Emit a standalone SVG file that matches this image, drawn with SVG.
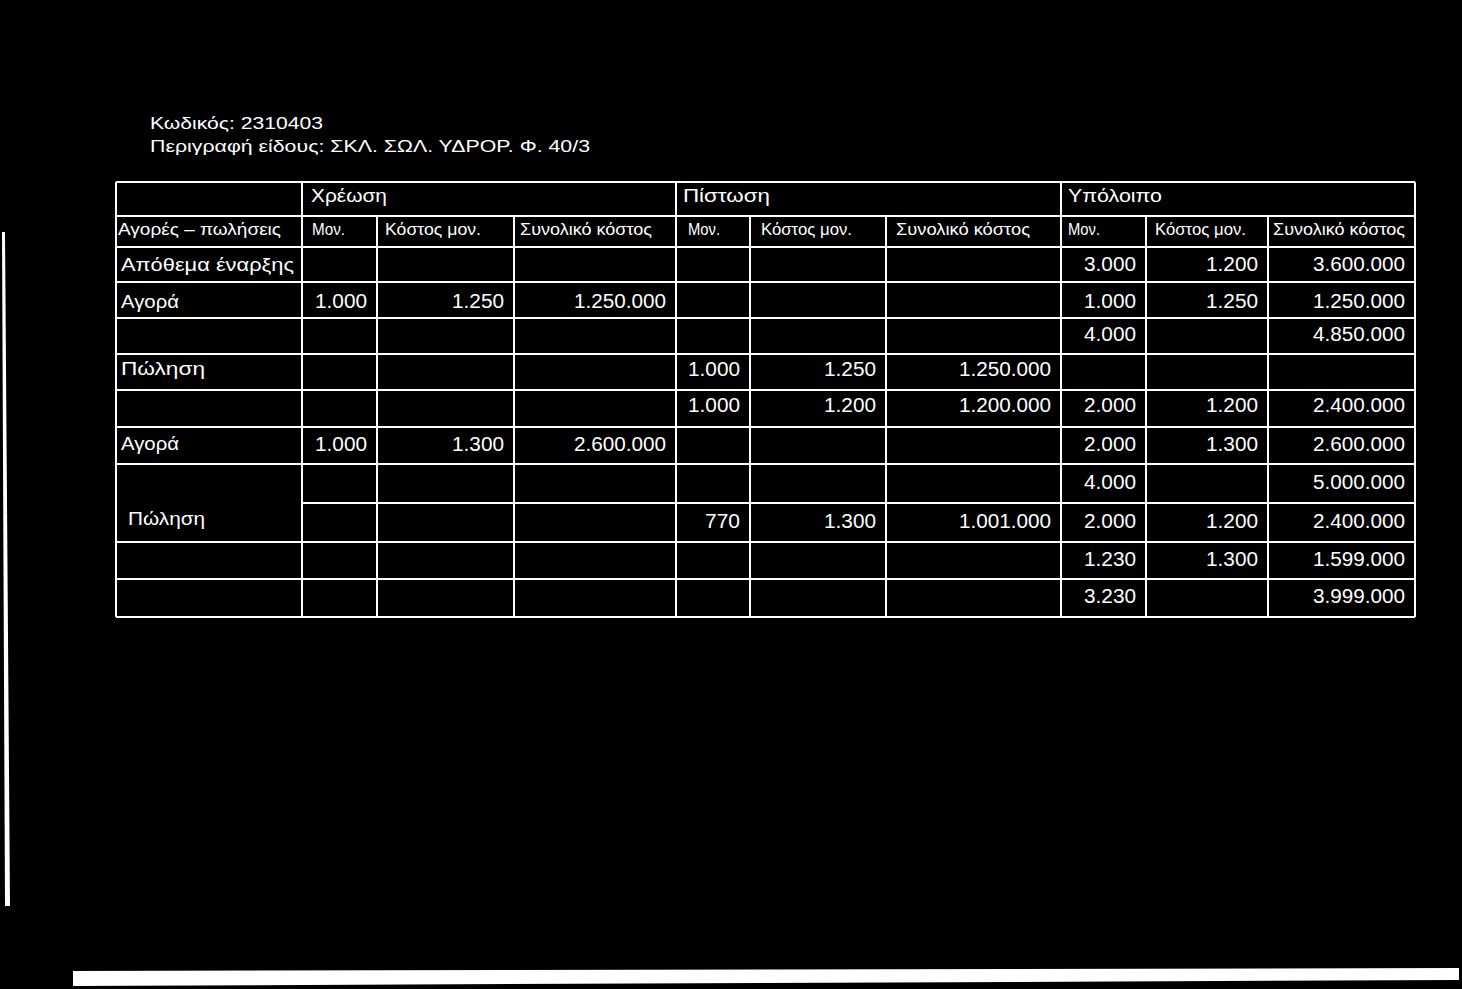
<svg xmlns="http://www.w3.org/2000/svg" width="1462" height="989" viewBox="0 0 1462 989">
<style>
.t{font-family:"Liberation Sans",Arial,"DejaVu Sans",sans-serif;fill:#fff}
.ti{font-size:17px}
.h1{font-size:17.5px}
.h2{font-size:16px}
.lab{font-size:18.5px}
.n{font-size:20px}
.g line{stroke:#fff;stroke-width:2}
</style>
<rect width="1462" height="989" fill="#000"/>
<g id="scan-marks" fill="#fff">
<polygon points="2,232 5,232 10,906 5,906"/>
<polygon points="73,971 1459,968 1459,980 73,986"/>
</g>
<g id="title" class="t ti">
<text x="150" y="129" textLength="173" lengthAdjust="spacingAndGlyphs">Κωδικός: 2310403</text>
<text x="150" y="152" textLength="440" lengthAdjust="spacingAndGlyphs">Περιγραφή είδους: ΣΚΛ. ΣΩΛ. ΥΔΡΟΡ. Φ. 40/3</text>
</g>
<g id="grid" class="g">
<line x1="116" y1="182" x2="1415" y2="182"/>
<line x1="116" y1="216" x2="1415" y2="216"/>
<line x1="116" y1="247" x2="1415" y2="247"/>
<line x1="116" y1="282" x2="1415" y2="282"/>
<line x1="116" y1="318" x2="1415" y2="318"/>
<line x1="116" y1="354" x2="1415" y2="354"/>
<line x1="116" y1="390" x2="1415" y2="390"/>
<line x1="116" y1="427" x2="1415" y2="427"/>
<line x1="116" y1="464" x2="1415" y2="464"/>
<line x1="302" y1="503" x2="1415" y2="503"/>
<line x1="116" y1="542" x2="1415" y2="542"/>
<line x1="116" y1="579" x2="1415" y2="579"/>
<line x1="116" y1="617" x2="1415" y2="617"/>
<line x1="116" y1="182" x2="116" y2="617"/>
<line x1="302" y1="182" x2="302" y2="617"/>
<line x1="377" y1="216" x2="377" y2="617"/>
<line x1="514" y1="216" x2="514" y2="617"/>
<line x1="676" y1="182" x2="676" y2="617"/>
<line x1="750" y1="216" x2="750" y2="617"/>
<line x1="886" y1="216" x2="886" y2="617"/>
<line x1="1061" y1="182" x2="1061" y2="617"/>
<line x1="1146" y1="216" x2="1146" y2="617"/>
<line x1="1268" y1="216" x2="1268" y2="617"/>
<line x1="1415" y1="182" x2="1415" y2="617"/>
</g>
<g id="header" class="t">
<text class="h1" x="311" y="202" textLength="76" lengthAdjust="spacingAndGlyphs">Χρέωση</text>
<text class="h1" x="683" y="202" textLength="87" lengthAdjust="spacingAndGlyphs">Πίστωση</text>
<text class="h1" x="1068" y="202" textLength="94" lengthAdjust="spacingAndGlyphs">Υπόλοιπο</text>
<text class="h2" x="118" y="235" textLength="163" lengthAdjust="spacingAndGlyphs">Αγορές – πωλήσεις</text>
<text class="h2" x="312" y="235" textLength="33" lengthAdjust="spacingAndGlyphs">Μον.</text>
<text class="h2" x="385" y="235" textLength="96" lengthAdjust="spacingAndGlyphs">Κόστος μον.</text>
<text class="h2" x="520" y="235" textLength="132" lengthAdjust="spacingAndGlyphs">Συνολικό κόστος</text>
<text class="h2" x="688" y="235" textLength="32" lengthAdjust="spacingAndGlyphs">Μον.</text>
<text class="h2" x="761" y="235" textLength="91" lengthAdjust="spacingAndGlyphs">Κόστος μον.</text>
<text class="h2" x="896" y="235" textLength="134" lengthAdjust="spacingAndGlyphs">Συνολικό κόστος</text>
<text class="h2" x="1068" y="235" textLength="32" lengthAdjust="spacingAndGlyphs">Μον.</text>
<text class="h2" x="1155" y="235" textLength="91" lengthAdjust="spacingAndGlyphs">Κόστος μον.</text>
<text class="h2" x="1273" y="235" textLength="132" lengthAdjust="spacingAndGlyphs">Συνολικό κόστος</text>
</g>
<g id="row-apothema" class="t">
<text class="lab" x="121" y="271" textLength="173" lengthAdjust="spacingAndGlyphs">Απόθεμα έναρξης</text>
<text class="n" x="1084" y="271" textLength="52" lengthAdjust="spacingAndGlyphs">3.000</text>
<text class="n" x="1206" y="271" textLength="52" lengthAdjust="spacingAndGlyphs">1.200</text>
<text class="n" x="1313" y="271" textLength="92" lengthAdjust="spacingAndGlyphs">3.600.000</text>
</g>
<g id="row-agora-1" class="t">
<text class="lab" x="121" y="308" textLength="58" lengthAdjust="spacingAndGlyphs">Αγορά</text>
<text class="n" x="315" y="308" textLength="52" lengthAdjust="spacingAndGlyphs">1.000</text>
<text class="n" x="452" y="308" textLength="52" lengthAdjust="spacingAndGlyphs">1.250</text>
<text class="n" x="574" y="308" textLength="92" lengthAdjust="spacingAndGlyphs">1.250.000</text>
<text class="n" x="1084" y="308" textLength="52" lengthAdjust="spacingAndGlyphs">1.000</text>
<text class="n" x="1206" y="308" textLength="52" lengthAdjust="spacingAndGlyphs">1.250</text>
<text class="n" x="1313" y="308" textLength="92" lengthAdjust="spacingAndGlyphs">1.250.000</text>
</g>
<g id="row-sum-1" class="t">
<text class="n" x="1084" y="341" textLength="52" lengthAdjust="spacingAndGlyphs">4.000</text>
<text class="n" x="1313" y="341" textLength="92" lengthAdjust="spacingAndGlyphs">4.850.000</text>
</g>
<g id="row-polisi-1" class="t">
<text class="lab" x="121" y="375" textLength="84" lengthAdjust="spacingAndGlyphs">Πώληση</text>
<text class="n" x="688" y="376" textLength="52" lengthAdjust="spacingAndGlyphs">1.000</text>
<text class="n" x="824" y="376" textLength="52" lengthAdjust="spacingAndGlyphs">1.250</text>
<text class="n" x="959" y="376" textLength="92" lengthAdjust="spacingAndGlyphs">1.250.000</text>
</g>
<g id="row-polisi-1b" class="t">
<text class="n" x="688" y="412" textLength="52" lengthAdjust="spacingAndGlyphs">1.000</text>
<text class="n" x="824" y="412" textLength="52" lengthAdjust="spacingAndGlyphs">1.200</text>
<text class="n" x="959" y="412" textLength="92" lengthAdjust="spacingAndGlyphs">1.200.000</text>
<text class="n" x="1084" y="412" textLength="52" lengthAdjust="spacingAndGlyphs">2.000</text>
<text class="n" x="1206" y="412" textLength="52" lengthAdjust="spacingAndGlyphs">1.200</text>
<text class="n" x="1313" y="412" textLength="92" lengthAdjust="spacingAndGlyphs">2.400.000</text>
</g>
<g id="row-agora-2" class="t">
<text class="lab" x="121" y="450" textLength="58" lengthAdjust="spacingAndGlyphs">Αγορά</text>
<text class="n" x="315" y="451" textLength="52" lengthAdjust="spacingAndGlyphs">1.000</text>
<text class="n" x="452" y="451" textLength="52" lengthAdjust="spacingAndGlyphs">1.300</text>
<text class="n" x="574" y="451" textLength="92" lengthAdjust="spacingAndGlyphs">2.600.000</text>
<text class="n" x="1084" y="451" textLength="52" lengthAdjust="spacingAndGlyphs">2.000</text>
<text class="n" x="1206" y="451" textLength="52" lengthAdjust="spacingAndGlyphs">1.300</text>
<text class="n" x="1313" y="451" textLength="92" lengthAdjust="spacingAndGlyphs">2.600.000</text>
</g>
<g id="row-sum-2" class="t">
<text class="n" x="1084" y="489" textLength="52" lengthAdjust="spacingAndGlyphs">4.000</text>
<text class="n" x="1313" y="489" textLength="92" lengthAdjust="spacingAndGlyphs">5.000.000</text>
</g>
<g id="row-polisi-2" class="t">
<text class="lab" x="128" y="525" textLength="77" lengthAdjust="spacingAndGlyphs">Πώληση</text>
<text class="n" x="705" y="528" textLength="35" lengthAdjust="spacingAndGlyphs">770</text>
<text class="n" x="824" y="528" textLength="52" lengthAdjust="spacingAndGlyphs">1.300</text>
<text class="n" x="959" y="528" textLength="92" lengthAdjust="spacingAndGlyphs">1.001.000</text>
<text class="n" x="1084" y="528" textLength="52" lengthAdjust="spacingAndGlyphs">2.000</text>
<text class="n" x="1206" y="528" textLength="52" lengthAdjust="spacingAndGlyphs">1.200</text>
<text class="n" x="1313" y="528" textLength="92" lengthAdjust="spacingAndGlyphs">2.400.000</text>
</g>
<g id="row-polisi-2b" class="t">
<text class="n" x="1084" y="566" textLength="52" lengthAdjust="spacingAndGlyphs">1.230</text>
<text class="n" x="1206" y="566" textLength="52" lengthAdjust="spacingAndGlyphs">1.300</text>
<text class="n" x="1313" y="566" textLength="92" lengthAdjust="spacingAndGlyphs">1.599.000</text>
</g>
<g id="row-sum-3" class="t">
<text class="n" x="1084" y="603" textLength="52" lengthAdjust="spacingAndGlyphs">3.230</text>
<text class="n" x="1313" y="603" textLength="92" lengthAdjust="spacingAndGlyphs">3.999.000</text>
</g>
</svg>
